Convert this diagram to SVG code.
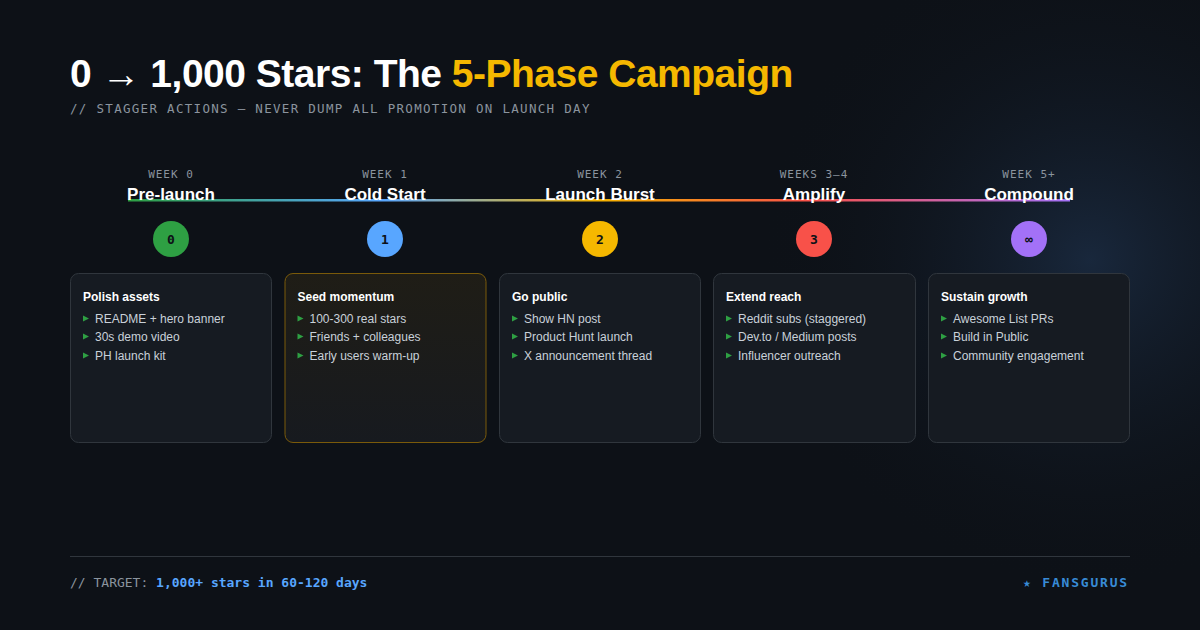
<svg xmlns="http://www.w3.org/2000/svg" width="1200" height="630" viewBox="0 0 1200 630">
<defs>
<radialGradient id="glow" cx="1090" cy="260" r="330" gradientUnits="userSpaceOnUse">
<stop offset="0" stop-color="#1a2a40" stop-opacity="0.9"/>
<stop offset="1" stop-color="#0d1117" stop-opacity="0"/>
</radialGradient>
<linearGradient id="tl" x1="128" y1="0" x2="1070" y2="0" gradientUnits="userSpaceOnUse">
<stop offset="0" stop-color="#2ea043"/>
<stop offset="0.27" stop-color="#58a6ff"/>
<stop offset="0.5" stop-color="#f5b400"/>
<stop offset="0.72" stop-color="#f85149"/>
<stop offset="1" stop-color="#a371f7"/>
</linearGradient>
<linearGradient id="warm" x1="0" y1="0" x2="0" y2="1">
<stop offset="0" stop-color="#1f1d16"/>
<stop offset="1" stop-color="#171a1f"/>
</linearGradient>
<style>
.mono{font-family:"DejaVu Sans Mono","Liberation Mono",monospace}
.sans{font-family:"Liberation Sans",Arial,sans-serif}
.week{font-size:11px;fill:#8b949e;letter-spacing:1px;text-anchor:middle}
.phase{font-size:17px;font-weight:bold;fill:#ffffff;text-anchor:middle}
.num{font-size:13px;font-weight:bold;fill:#0d1117;text-anchor:middle}
.card{fill:#161b22;stroke:#30363d;stroke-width:1}
.ct{font-size:12px;font-weight:bold;fill:#ffffff}
.it{font-size:12px;fill:#c9d1d9}
.bl{fill:#2ea043}
</style>
</defs>
<rect width="1200" height="630" fill="#0d1117"/>
<rect width="1200" height="630" fill="url(#glow)"/>

<text x="70" y="87" class="sans" font-size="39" font-weight="bold" fill="#ffffff" letter-spacing="-0.5">0 → 1,000 Stars: The <tspan fill="#f5b800">5-Phase Campaign</tspan></text>
<text x="70" y="113" class="mono" font-size="12.5" fill="#8b949e" letter-spacing="1.3">// STAGGER ACTIONS — NEVER DUMP ALL PROMOTION ON LAUNCH DAY</text>

<g id="connectors">
<rect x="128" y="199" width="942" height="2.5" fill="url(#tl)"/>
</g>

<g id="phase0">
<text x="171" y="178" class="mono week">WEEK 0</text>
<text x="171" y="200" class="sans phase">Pre-launch</text>
<circle cx="171" cy="239" r="18" fill="#2ea043"/>
<text x="171" y="243.5" class="mono num">0</text>
<rect x="70.5" y="273.5" width="201" height="169" rx="8" class="card"/>
<text x="83" y="301" class="sans ct">Polish assets</text>
<path d="M83 315.5 L89 318.5 L83 321.5Z M83 333.5 L89 336.5 L83 339.5Z M83 352.5 L89 355.5 L83 358.5Z" class="bl"/>
<text x="95" y="323" class="sans it">README + hero banner</text>
<text x="95" y="341" class="sans it">30s demo video</text>
<text x="95" y="360" class="sans it">PH launch kit</text>
</g>

<g id="phase1">
<text x="385" y="178" class="mono week">WEEK 1</text>
<text x="385" y="200" class="sans phase">Cold Start</text>
<circle cx="385" cy="239" r="18" fill="#58a6ff"/>
<text x="385" y="243.5" class="mono num">1</text>
<rect x="285" y="273.5" width="201" height="169" rx="8" fill="url(#warm)" stroke="#7a5a0a" stroke-width="1"/>
<text x="297.5" y="301" class="sans ct">Seed momentum</text>
<path d="M297.5 315.5 L303.5 318.5 L297.5 321.5Z M297.5 333.5 L303.5 336.5 L297.5 339.5Z M297.5 352.5 L303.5 355.5 L297.5 358.5Z" class="bl"/>
<text x="309.5" y="323" class="sans it">100-300 real stars</text>
<text x="309.5" y="341" class="sans it">Friends + colleagues</text>
<text x="309.5" y="360" class="sans it">Early users warm-up</text>
</g>

<g id="phase2">
<text x="600" y="178" class="mono week">WEEK 2</text>
<text x="600" y="200" class="sans phase">Launch Burst</text>
<circle cx="600" cy="239" r="18" fill="#f5b800"/>
<text x="600" y="243.5" class="mono num">2</text>
<rect x="499.5" y="273.5" width="201" height="169" rx="8" class="card"/>
<text x="512" y="301" class="sans ct">Go public</text>
<path d="M512 315.5 L518 318.5 L512 321.5Z M512 333.5 L518 336.5 L512 339.5Z M512 352.5 L518 355.5 L512 358.5Z" class="bl"/>
<text x="524" y="323" class="sans it">Show HN post</text>
<text x="524" y="341" class="sans it">Product Hunt launch</text>
<text x="524" y="360" class="sans it">X announcement thread</text>
</g>

<g id="phase3">
<text x="814" y="178" class="mono week">WEEKS 3–4</text>
<text x="814" y="200" class="sans phase">Amplify</text>
<circle cx="814" cy="239" r="18" fill="#f85149"/>
<text x="814" y="243.5" class="mono num">3</text>
<rect x="713.5" y="273.5" width="202" height="169" rx="8" class="card"/>
<text x="726" y="301" class="sans ct">Extend reach</text>
<path d="M726 315.5 L732 318.5 L726 321.5Z M726 333.5 L732 336.5 L726 339.5Z M726 352.5 L732 355.5 L726 358.5Z" class="bl"/>
<text x="738" y="323" class="sans it">Reddit subs (staggered)</text>
<text x="738" y="341" class="sans it">Dev.to / Medium posts</text>
<text x="738" y="360" class="sans it">Influencer outreach</text>
</g>

<g id="phase4">
<text x="1029" y="178" class="mono week">WEEK 5+</text>
<text x="1029" y="200" class="sans phase">Compound</text>
<circle cx="1029" cy="239" r="18" fill="#a371f7"/>
<text x="1029" y="243.5" class="mono num">∞</text>
<rect x="928.5" y="273.5" width="201" height="169" rx="8" class="card"/>
<text x="941" y="301" class="sans ct">Sustain growth</text>
<path d="M941 315.5 L947 318.5 L941 321.5Z M941 333.5 L947 336.5 L941 339.5Z M941 352.5 L947 355.5 L941 358.5Z" class="bl"/>
<text x="953" y="323" class="sans it">Awesome List PRs</text>
<text x="953" y="341" class="sans it">Build in Public</text>
<text x="953" y="360" class="sans it">Community engagement</text>
</g>

<line x1="70" y1="556.5" x2="1130" y2="556.5" stroke="#30363d" stroke-width="1"/>
<text x="70" y="587" class="mono" font-size="13" fill="#8b949e">// TARGET: <tspan fill="#58a6ff" font-weight="bold">1,000+ stars in 60-120 days</tspan></text>
<text x="1129" y="587" class="mono" font-size="13" font-weight="bold" fill="#388bd6" letter-spacing="1.8" text-anchor="end">★ FANSGURUS</text>
</svg>
